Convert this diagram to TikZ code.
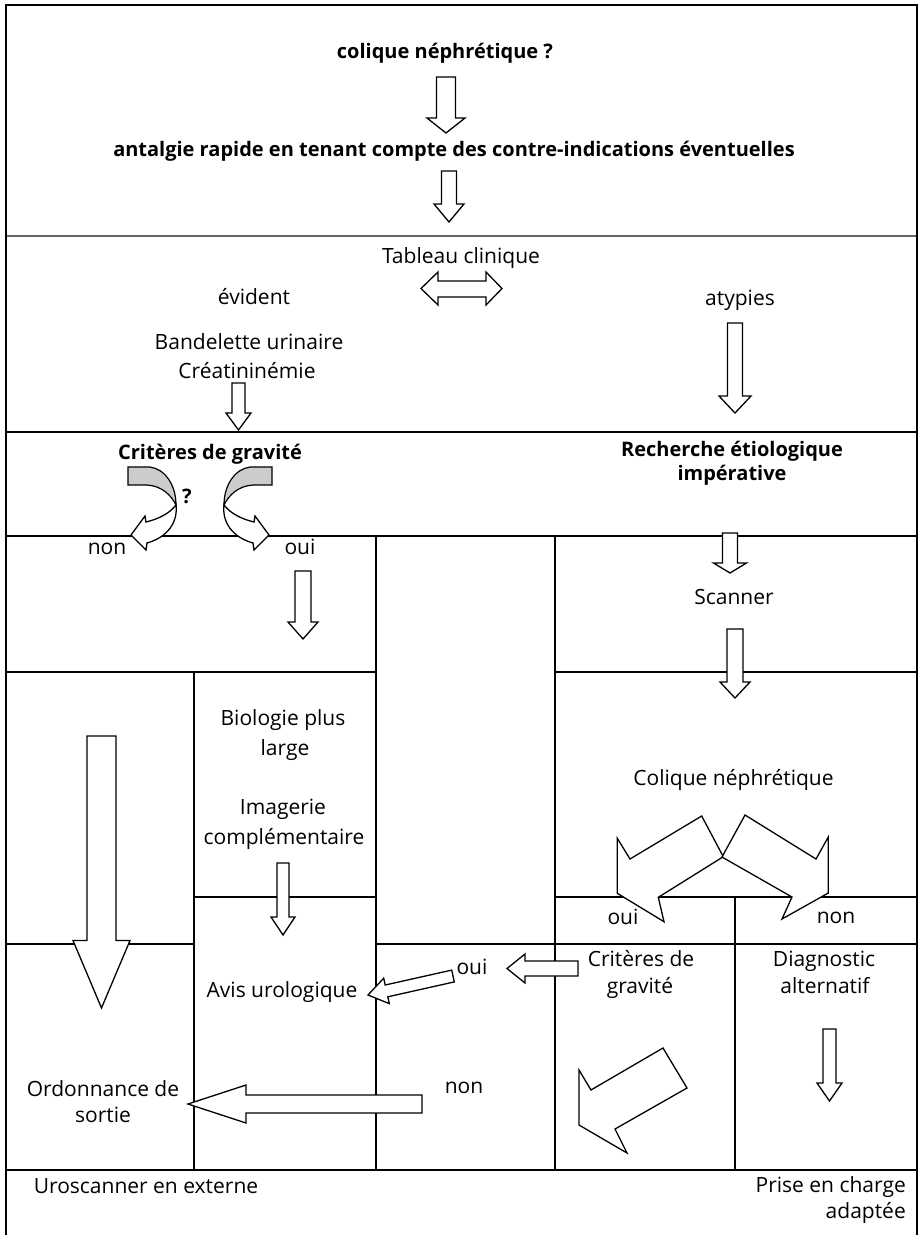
\documentclass[tikz,border=0pt]{standalone}
\usepackage{fontspec}
\setmainfont{Open Sans}
\newcommand{\blockdown}[6]{%
  \draw[barrow] ({#1-#5},#2) -- ({#1+#5},#2) -- ({#1+#5},#3) -- ({#1+#6},#3) -- (#1,#4) -- ({#1-#6},#3) -- ({#1-#5},#3) -- cycle;}
\newcommand{\curlyshape}{%
  \draw[curlyback] (128,467) -- (150,467) .. controls (165,469) and (176,485) .. (176,505)
     .. controls (171,495) and (162,486) .. (147,485) -- (128,485) -- cycle;
  \draw[barrow] (176,505) .. controls (178,522) and (168,537) .. (147,543) -- (146,550) -- (131,535)
     -- (145,516) -- (146,522) .. controls (158,519) and (169,514) .. (176,505) -- cycle;}
\tikzset{
  frame/.style={line width=2pt},
  rule/.style={line width=1.2pt},
  barrow/.style={draw, fill=white, line width=1.3pt, line join=miter},
  curlyback/.style={draw, fill=black!20, line width=1.2pt},
  rt/.style={inner sep=0pt, anchor=base, font=\fontsize{21}{26}\selectfont},
  bt/.style={rt, font=\fontsize{20}{25}\selectfont\bfseries},
}
\begin{document}
\begin{tikzpicture}[x=1pt, y=-1pt]
\useasboundingbox (0,0) rectangle (918,1235);
% grid lines
\draw[rule, black!60, line width=1.5pt] (6,236) -- (916,236);
\draw[rule] (6,432) -- (916,432);
\draw[rule] (6,536) -- (916,536);
\draw[rule] (6,672) -- (376,672);
\draw[rule] (555,672) -- (916,672);
\draw[rule] (194,897) -- (376,897);
\draw[rule] (555,897) -- (916,897);
\draw[rule] (6,944) -- (194,944);
\draw[rule] (376,944) -- (916,944);
\draw[rule] (6,1170) -- (916,1170);
\draw[rule] (376,536) -- (376,1170);
\draw[rule] (555,536) -- (555,1170);
\draw[rule] (194,672) -- (194,1170);
\draw[rule] (735,897) -- (735,1170);
% frame
\draw[frame] (6,1235) -- (6,5) -- (916.5,5) -- (916.5,1235);

% texts
\node[bt] (q1) at (445,58) {colique néphrétique ?};
\node[bt] (antal) at (454,156) {antalgie rapide en tenant compte des contre-indications éventuelles};
\node[rt] (tab) at (461,263) {Tableau clinique};
\node[rt] (evid) at (254,304) {évident};
\node[rt] (atyp) at (740,305) {atypies};
\node[rt] (bande) at (249,349) {Bandelette urinaire};
\node[rt] (creat) at (247,378) {Créatininémie};
\node[bt] (crit) at (210,459) {Critères de gravité};
\node[bt] (rech1) at (732,456) {Recherche étiologique};
\node[bt] (rech2) at (732,480) {impérative};
\node[bt] (qm) at (187,503) {?};
\node[rt] (non1) at (107,554) {non};
\node[rt] (oui1) at (300,554) {oui};
\node[rt] (scan) at (734,604) {Scanner};
\node[rt] (bio1) at (283,725) {Biologie plus};
\node[rt] (bio2) at (285,755) {large};
\node[rt] (img1) at (283,814) {Imagerie};
\node[rt] (img2) at (284,844) {complémentaire};
\node[rt] (col) at (733.5,785) {Colique néphrétique};
\node[rt] (oui2) at (623,924) {oui};
\node[rt] (non2) at (836,923) {non};
\node[rt] (avis) at (282,997) {Avis urologique};
\node[rt] (oui3) at (472,974) {oui};
\node[rt] (crg1) at (641,966) {Critères de};
\node[rt] (crg2) at (640,993) {gravité};
\node[rt] (diag1) at (824,966) {Diagnostic};
\node[rt] (diag2) at (825,993) {alternatif};
\node[rt] (non3) at (464,1093) {non};
\node[rt] (ord1) at (103,1096) {Ordonnance de};
\node[rt] (ord2) at (103,1122) {sortie};
\node[rt] (uro) at (146,1193) {Uroscanner en externe};
\node[rt, anchor=base east] (prise) at (906,1192) {Prise en charge};
\node[rt, anchor=base east] (adap) at (906,1218) {adaptée};

% block arrows
\blockdown{446}{77}{118}{133}{9.5}{19}
\blockdown{449}{171}{204}{222}{7.5}{15}
\draw[barrow] (421,288.5) -- (438,272) -- (438,281) -- (486,281) -- (486,272) -- (502,288.5)
  -- (486,305) -- (486,297) -- (438,297) -- (438,305) -- cycle;
\blockdown{238.5}{383}{413}{430}{6.5}{12.5}
\blockdown{735}{323}{396}{413}{7.5}{16}
% curly arrows
\curlyshape
\begin{scope}[xshift=400pt, xscale=-1]
\curlyshape
\end{scope}
\blockdown{303}{571}{622}{639}{8}{15}
\blockdown{730}{533}{563}{573}{7.5}{16.5}
\blockdown{735}{629}{682}{698}{8}{15}
\blockdown{101.5}{736}{940.5}{1008}{14.5}{28.5}
\blockdown{283}{863}{917}{935}{6}{12}
\blockdown{829.5}{1029}{1083}{1101}{6.5}{12.5}
% colique double arrow
\draw[barrow] (701.7,816) -- (723.3,856.7) -- (658.3,897.3) -- (664,921.7) -- (617.3,893.3)
  -- (617.3,838.3) -- (630,859) -- cycle;
\draw[barrow] (745,815) -- (722,857) -- (792,897) -- (782,919) -- (828.3,893)
  -- (828.3,837) -- (816,859) -- cycle;
% horizontal arrows
\draw[barrow] (578,961) -- (578,976) -- (525,976) -- (525,983) -- (507,968.5) -- (525,954) -- (525,961) -- cycle;
\draw[barrow] (451.7,970.1) -- (385.2,985.0) -- (383.7,978.2) -- (368,995) -- (389.3,1003.6)
  -- (387.8,996.8) -- (454.3,981.9) -- cycle;
\draw[barrow] (422,1095) -- (422,1113) -- (246,1113) -- (246,1123) -- (188,1104) -- (246,1085) -- (246,1095) -- cycle;
% diagonal arrow
\draw[barrow] (663,1048) -- (687,1088) -- (615,1129) -- (627,1153) -- (579,1125) -- (579,1070) -- (591,1090) -- cycle;
\end{tikzpicture}
\end{document}
